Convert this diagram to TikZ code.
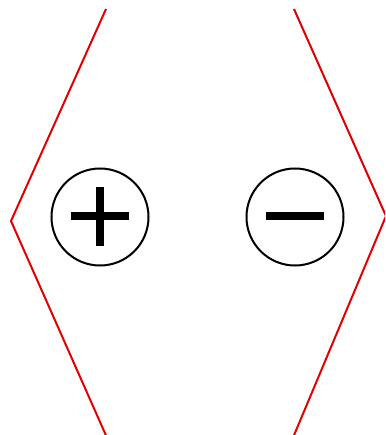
\documentclass[tikz,border=0pt]{standalone}
\begin{document}
\begin{tikzpicture}[x=1pt,y=-1pt,
  bound/.style={draw=red!90!black,line width=2pt,line join=miter},
  pole/.style={circle,draw=black,line width=2pt,minimum size=97pt,inner sep=0pt},
  sign/.style={line width=8pt,black}]
\useasboundingbox (0,0) rectangle (385,435);
\clip (0,0) rectangle (385,435);
\coordinate (lt) at (106,9);
\coordinate (lv) at (11,221);
\coordinate (lb) at (108,440);
\coordinate (rt) at (294,9);
\coordinate (rv) at (386,216);
\coordinate (rb) at (292,440);
\draw[bound] (lt) -- (lv) -- (lb);
\draw[bound] (rt) -- (rv) -- (rb);
\node[pole] (plus) at (100,217) {};
\node[pole] (minus) at (295,217) {};
\draw[sign] ([xshift=-29pt,yshift=1pt]plus.center) -- ([xshift=29pt,yshift=1pt]plus.center);
\draw[sign] ([yshift=-29pt]plus.center) -- ([yshift=30pt]plus.center);
\draw[sign] ([xshift=-29pt,yshift=1pt]minus.center) -- ([xshift=29pt,yshift=1pt]minus.center);
\end{tikzpicture}
\end{document}
